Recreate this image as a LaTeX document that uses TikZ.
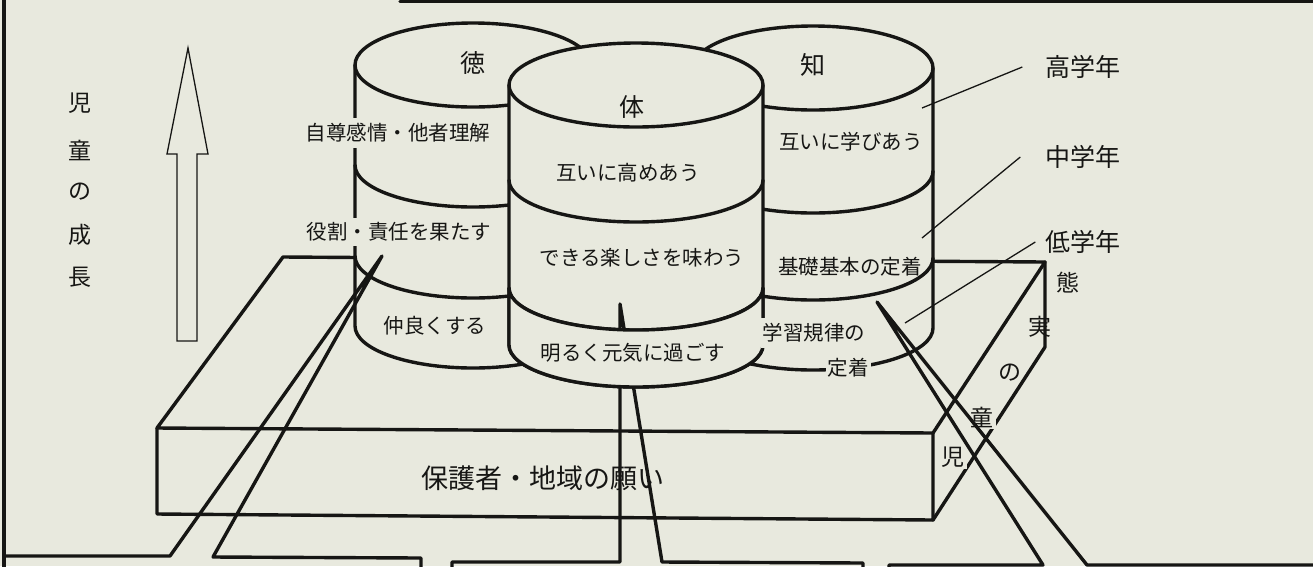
\documentclass[tikz,border=0pt]{standalone}
\usepackage{fontspec}
\newfontfamily\jpfont{Noto Sans CJK JP}
\definecolor{paper}{RGB}{232,233,222}
\definecolor{ink}{RGB}{22,22,20}
\begin{document}
\begin{tikzpicture}[x=1pt,y=-1pt,
    edge/.style={draw=ink, line width=3.4pt, line join=round, line cap=round},
    leader/.style={draw=ink, line width=1.3pt},
    txt/.style={font=\jpfont\fontsize{20.5}{24}\selectfont, text=ink, inner sep=1pt},
    big/.style={font=\jpfont\fontsize{25}{30}\selectfont, text=ink, inner sep=1pt},
    gap/.style={fill=paper, inner xsep=2pt, inner ysep=5pt}]
    \fill[paper] (0,0) rectangle (1313,566);
    \useasboundingbox (0,0) rectangle (1313,566);
    \clip (0,0) rectangle (1313,566);
    \draw[edge] (4,-5) -- (4,575);
    \draw[edge] (400,1.5) -- (1320,1.5);
    % growth arrow
    \draw[leader, line join=miter] (188,48) -- (208,154) -- (197,154) -- (197,341) -- (177,341) -- (177,154) -- (167,154) -- cycle;
    \foreach \c/\py in {児/103, 童/150, の/192, 成/235, 長/277}
        \node[big, font=\jpfont\fontsize{23}{28}\selectfont] at (80,\py) {\c};
    % platform
    \coordinate (pbl) at (283,257);
    \coordinate (pfl) at (157,428);
    \coordinate (pfr) at (933,433);
    \coordinate (pbr) at (1045,262);
    \coordinate (pfl2) at (157,514);
    \coordinate (pfr2) at (933,520);
    \coordinate (pbr2) at (1045,347);
    \draw[edge] (pbr) -- (pbl) -- (pfl) -- (pfr) -- cycle;
    \draw[edge] (pfl) -- (pfl2) -- (pfr2) -- (pfr);
    \draw[edge] (pfr2) -- (pbr2) -- (pbr);
    \node[big, font=\jpfont\fontsize{27}{32}\selectfont] (wish) at (543,478) {保護者・地域の願い};
    \foreach \c/\px/\py in {児/953/457, 童/982/417}
        \node[big, font=\jpfont\fontsize{23}{28}\selectfont, fill=paper, inner sep=2pt] at (\px,\py) {\c};
    \foreach \c/\px/\py in {の/1010/373, 実/1040/327, 態/1068/283}
        \node[big, font=\jpfont\fontsize{23}{28}\selectfont] at (\px,\py) {\c};
    % cylinders: centre x / x radius / top / bottom / two bands
    \foreach \cx/\rx/\ct/\cb/\ba/\bb in {473/118/65/326/165/256, 813/120/68/328/171/258, 636/127/85/345/180/288} {
        \filldraw[edge, fill=paper] (\cx-\rx,\ct) -- (\cx-\rx,\cb)
            arc[start angle=180, end angle=360, x radius=\rx*1pt, y radius=42pt] -- (\cx+\rx,\ct)
            arc[start angle=0, end angle=180, x radius=\rx*1pt, y radius=42pt] -- cycle;
        \foreach \yy in {\ct,\ba,\bb}
            \draw[edge] (\cx-\rx,\yy) arc[start angle=180, end angle=360, x radius=\rx*1pt, y radius=42pt];
    }
    % middle box pointer, hidden by the lowest band
    \draw[edge] (452,575) -- (452,562) -- (620,562) -- (620,304) -- (662,562) -- (863,563) -- (863,575);
    \filldraw[edge, fill=paper] (509,288) arc[start angle=180, end angle=360, x radius=127pt, y radius=42pt]
        -- (763,345) arc[start angle=0, end angle=-180, x radius=127pt, y radius=42pt] -- cycle;
    \draw[edge] (4,556) -- (170,556) -- (382,256) -- (213,557) -- (421,558) -- (421,575);
    \draw[edge] (889,575) -- (889,565) -- (1043,565) -- (877,302) -- (1087,565) -- (1320,565);
    % grades
    \node[big] (hi) at (1083,67) {高学年};
    \node[big] (mid) at (1083,157) {中学年};
    \node[big] (low) at (1083,242) {低学年};
    \coordinate (hiend) at (922,108);
    \coordinate (midend) at (922,238);
    \coordinate (lowend) at (905,323);
    \draw[leader] ([xshift=-22pt]hi.west) -- (hiend);
    \draw[leader] ([xshift=-24pt]mid.west) -- (midend);
    \draw[leader] ([xshift=-9pt]low.west) -- (lowend);
    \node[big] (toku) at (473,63) {徳};
    \node[big] (tai) at (632,107) {体};
    \node[big] (chi) at (813,65) {知};
    \node[txt, gap] (t1) at (398,133) {自尊感情・他者理解};
    \node[txt, gap] (t2) at (399,232) {役割・責任を果たす};
    \node[txt] (t3) at (435,326) {仲良くする};
    \node[txt] (b1) at (628,173) {互いに高めあう};
    \node[txt] (b2) at (642,258) {できる楽しさを味わう};
    \node[txt] (b3) at (633,353) {明るく元気に過ごす};
    \node[txt] (c1) at (851,142) {互いに学びあう};
    \node[txt] (c2) at (850,267) {基礎基本の定着};
    \node[txt, gap] (c3) at (814,333) {学習規律の};
    \node[txt, gap] (c4) at (848,368) {定着};
\end{tikzpicture}
\end{document}
